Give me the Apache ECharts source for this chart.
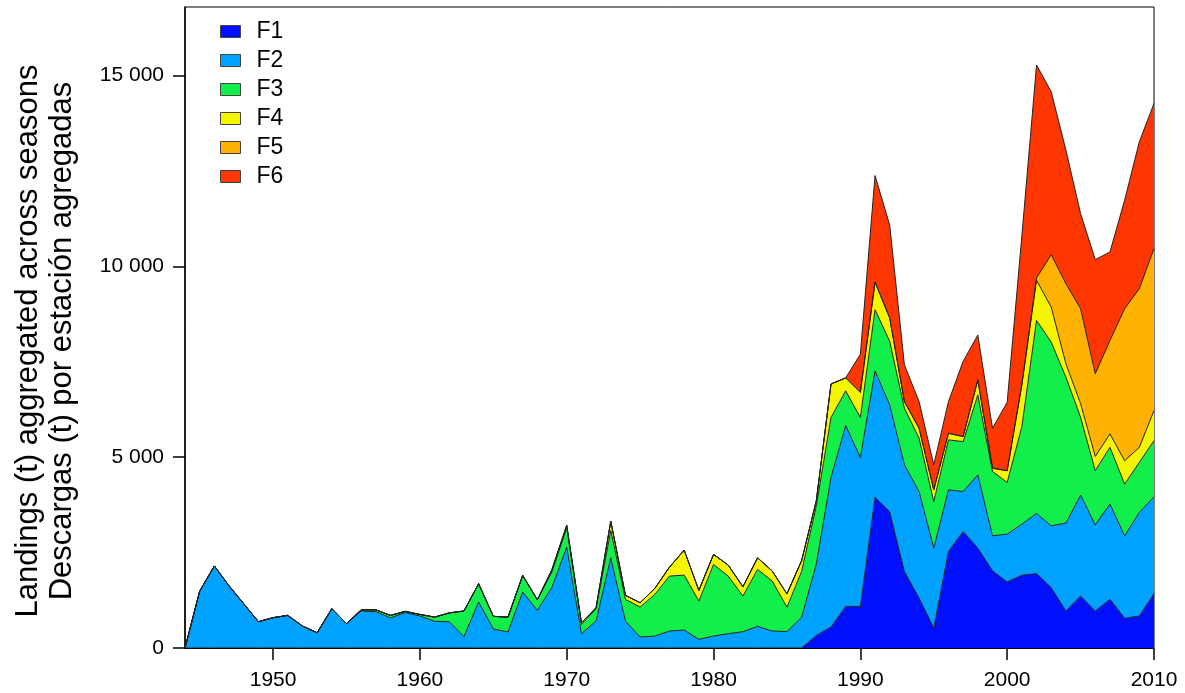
<!DOCTYPE html>
<html>
<head>
<meta charset="utf-8">
<title>Landings</title>
<script src="https://cdn.jsdelivr.net/npm/echarts@6/dist/echarts.min.js"></script>
<style>
html,body{margin:0;padding:0;background:#fff;}
#chart{width:1185px;height:693px;}
</style>
</head>
<body>
<div id="chart"></div>
<script>
// 年份 1944 - 2010
var years = [];
for (var y = 1944; y <= 2010; y++) { years.push(y); }

var seriesNames = ['F1', 'F2', 'F3', 'F4', 'F5', 'F6'];
var seriesColors = ['#0010ff', '#00a2ff', '#12ef4a', '#f5f500', '#ffb300', '#ff3600'];
var yTicks = [0, 5000, 10000, 15000];

// 数据 (t)
var f1 = [0,0,0,0,0,0,0,0,0,0, 0,0,0,0,0,0,0,0,0,0,
	0,0,0,0,0,0,0,0,0,0, 0,0,0,0,0,0,0,0,0,0,
	0,0,0,330,550,1090,1090,3950,3570,2007, 1309,524,2531,3055,2618,2022,1733,1908,1951,1584,
	971,1365,971,1278,780,840,1426];
var f2 = [0,1490,2150,1630,1160,690,795,855,575,400, 1030,640,970,950,790,930,840,700,690,300,
	1205,500,420,1466,987,1597,2644,374,707,2364, 707,288,314,445,471,227,314,374,427,568,
	445,430,810,1870,3920,4740,3900,3310,2800,2793, 2792,2094,1614,1046,1920,918,1252,1339,1575,1619,
	2302,2644,2258,2494,2160,2712,2538];
var f3 = [0,0,0,0,0,0,0,0,0,0, 0,0,30,50,65,30,40,110,230,670,
	480,330,390,437,278,403,506,246,323,716, 567,785,1091,1440,1440,1003,1876,1511,934,1492,
	1309,640,1200,1530,1570,910,1050,1606,1666,1483, 1396,1222,1309,1309,2094,1685,1355,2553,5059,4812,
	3824,2037,1418,1487,1357,1313,1471];
var f4 = [0,0,0,0,0,0,0,0,0,0, 0,0,0,0,0,0,0,0,0,0,
	0,0,0,0,0,60,62,42,25,244, 105,114,157,235,654,280,262,288,244,304,
	262,350,280,130,880,340,660,724,611,174, 262,305,174,131,393,87,307,1100,1050,920,
	351,360,373,351,612,394,787];
var f5 = [0,0,0,0,0,0,0,0,0,0, 0,0,0,0,0,0,0,0,0,0,
	0,0,0,0,0,0,0,0,0,0, 0,0,0,0,0,0,0,0,0,0,
	0,0,0,0,0,0,0,0,0,0, 0,0,0,0,0,0,0,0,65,1374,
	2100,2486,2165,2450,3983,4158,4246];
var f6 = [0,0,0,0,0,0,0,0,0,0, 0,0,0,0,0,0,0,0,0,0,
	0,0,0,0,0,0,0,0,0,0, 0,0,0,0,0,0,0,0,0,0,
	0,0,0,0,0,0,1000,2792,2436,963, 698,655,829,1972,1179,1047,1793,3900,5580,4271,
	3500,2494,2993,2319,2843,3849,3806];
var seriesData = [f1, f2, f3, f4, f5, f6];

var font = 'Liberation Sans, Arial, sans-serif';

function fmt(v){
	return String(v).replace(/\B(?=(\d{3})+(?!\d))/g, ' ');
};

var series = [];
for (var i = 0; i < seriesNames.length; i++) {
	series.push({
		name: seriesNames[i],
		type: 'line',
		stack: 'total',
		data: seriesData[i],
		showSymbol: false,
		symbol: 'none',
		smooth: false,
		lineStyle: { color: '#222', width: 1 },
		itemStyle: { color: seriesColors[i] },
		areaStyle: { color: seriesColors[i], opacity: 1 },
		z: 2
	});
}

var myChart = echarts.init(document.getElementById('chart'));
var option = {
	animation: false,
	backgroundColor: '#fff',
	textStyle: { fontFamily: font },
	grid: {
		left: 185, right: 31, top: 7, bottom: 45,
		show: true, borderColor: '#000', borderWidth: 1, backgroundColor: 'transparent'
	},
	legend: {
		orient: 'vertical',
		left: 220,
		top: 20,
		padding: 0,
		icon: 'rect',
		itemWidth: 20,
		itemHeight: 12,
		itemGap: 6,
		itemStyle: { borderColor: '#444', borderWidth: 1 },
		textStyle: { fontSize: 23, color: '#000', fontFamily: font, padding: [0, 0, 0, 11] },
		data: seriesNames
	},
	xAxis: {
		type: 'category',
		boundaryGap: false,
		data: years,
		axisLine: { show: true, lineStyle: { color: '#000', width: 1 } },
		axisTick: {
			show: true, length: 12, lineStyle: { color: '#000', width: 1.5 },
			interval: function(idx, val){ return Number(val) % 10 === 0; }
		},
		axisLabel: {
			fontSize: 21, color: '#000', margin: 22,
			interval: function(idx, val){ return Number(val) % 10 === 0; }
		},
		splitLine: { show: false }
	},
	yAxis: {
		type: 'value',
		min: 0,
		max: 16800,
		interval: 5000,
		axisLine: { show: true, lineStyle: { color: '#000', width: 1.5 } },
		axisTick: { show: true, length: 12, lineStyle: { color: '#000', width: 1.5 }, customValues: yTicks },
		axisLabel: { fontSize: 21, color: '#000', margin: 21, formatter: fmt, customValues: yTicks },
		splitLine: { show: false }
	},
	graphic: [
		{
			type: 'text', x: 28, y: 341, rotation: Math.PI / 2,
			style: { text: 'Landings (t) aggregated across seasons', fontSize: 31, fill: '#000',
				textAlign: 'center', textVerticalAlign: 'middle', fontFamily: font }
		},
		{
			type: 'text', x: 62, y: 341, rotation: Math.PI / 2,
			style: { text: 'Descargas (t) por estación agregadas', fontSize: 31, fill: '#000',
				textAlign: 'center', textVerticalAlign: 'middle', fontFamily: font }
		}
	],
	series: series
};
myChart.setOption(option);
</script>
</body>
</html>
